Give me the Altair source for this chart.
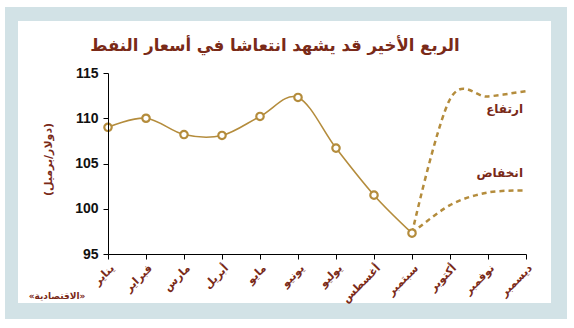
import altair as alt
import pandas as pd

months = ["يناير", "فبراير", "مارس", "أبريل", "مايو", "يونيو",
          "يوليو", "أغسطس", "سبتمبر", "أكتوبر", "نوفمبر", "ديسمبر"]
actual = [109.0, 110.0, 108.2, 108.1, 110.2, 112.3, 106.7, 101.5, 97.3]
forecast_months = ["سبتمبر", "أكتوبر", "نوفمبر", "ديسمبر"]
high = [97.3, 112.1, 112.4, 113.0]
low = [97.3, 100.4, 101.8, 102.0]
title_text = "الربع الأخير قد يشهد انتعاشا في أسعار النفط"
y_title = "(دولار/برميل)"
high_label = "ارتفاع"
low_label = "انخفاض"
source = "«الاقتصادية»"

GOLD = "#b48c3c"
RED = "#7a2a18"
FRAME = "#d2e2e6"
AR = "DejaVu Sans"

df_a = pd.DataFrame({"m": months[:len(actual)], "v": actual})
df_h = pd.DataFrame({"m": forecast_months, "v": high})
df_l = pd.DataFrame({"m": forecast_months, "v": low})
one = pd.DataFrame({"a": [0]})

xs = alt.X("m:N", sort=months, scale=alt.Scale(domain=months, type="point", padding=0),
           axis=alt.Axis(title=None, labelAngle=-45, labelAlign="right", labelBaseline="top",
                         labelColor=RED, labelFont=AR, labelFontWeight="bold", labelFontSize=11,
                         labelPadding=3, tickSize=5, tickColor="black", domainColor="black",
                         grid=False, labelOverlap=False, zindex=1))
ys = alt.Y("v:Q", scale=alt.Scale(domain=[95, 115], nice=False, zero=False),
           axis=alt.Axis(values=[95, 100, 105, 110, 115], title=y_title, titleColor=RED,
                         titleFont=AR, titleFontWeight="bold", titleFontSize=11,
                         titleX=-55, titleY=86, labelFont="Liberation Sans",
                         labelFontWeight="bold", labelFontSize=14, labelColor="#111",
                         tickSize=5, tickColor="black", domainColor="black", grid=False,
                         labelPadding=5, zindex=1))

outer = alt.Chart(one).mark_rect(color=FRAME).encode(
    x=alt.value(-103), x2=alt.value(459), y=alt.value(-66), y2=alt.value(246))
inner = alt.Chart(one).mark_rect(color="white").encode(
    x=alt.value(-90), x2=alt.value(443), y=alt.value(-52), y2=alt.value(230))

line_a = alt.Chart(df_a).mark_line(color=GOLD, strokeWidth=1.6, interpolate="cardinal").encode(x=xs, y=ys)
pts = alt.Chart(df_a).mark_point(shape="circle", size=55, filled=True, fill="white",
                                 stroke=GOLD, strokeWidth=2.2, opacity=1).encode(x=xs, y=ys)
line_h = alt.Chart(df_h).mark_line(color=GOLD, strokeWidth=2.5, strokeDash=[5, 4],
                                   interpolate="cardinal").encode(x=xs, y=ys)
line_l = alt.Chart(df_l).mark_line(color=GOLD, strokeWidth=2.5, strokeDash=[5, 4],
                                   interpolate="cardinal").encode(x=xs, y=ys)

lab_df = pd.DataFrame({"m": ["ديسمبر", "ديسمبر"], "v": [111.0, 104.0], "t": [high_label, low_label]})
labels = alt.Chart(lab_df).mark_text(align="right", dx=-3, font=AR, fontWeight="bold",
                                     fontSize=12, color=RED).encode(x=xs, y=ys, text="t:N")

title = alt.Chart(one).mark_text(text=title_text, font=AR, fontWeight="bold", fontSize=16.5,
                                 color=RED, align="center", baseline="middle").encode(
    x=alt.value(167), y=alt.value(-27))
src = alt.Chart(one).mark_text(text=source, font=AR, fontSize=9, fontWeight="bold", color=RED,
                               align="center", baseline="middle").encode(
    x=alt.value(-51), y=alt.value(223))

chart = alt.layer(outer, inner, line_a, line_h, line_l, pts, labels, title, src).properties(
    width=418, height=181,
    autosize=alt.AutoSizeParams(type="none"),
    padding={"left": 108, "top": 73, "right": 48, "bottom": 74},
    background="white",
).configure_view(stroke=None)

chart.save("out.html", embed_options={"renderer": "svg", "actions": False})
